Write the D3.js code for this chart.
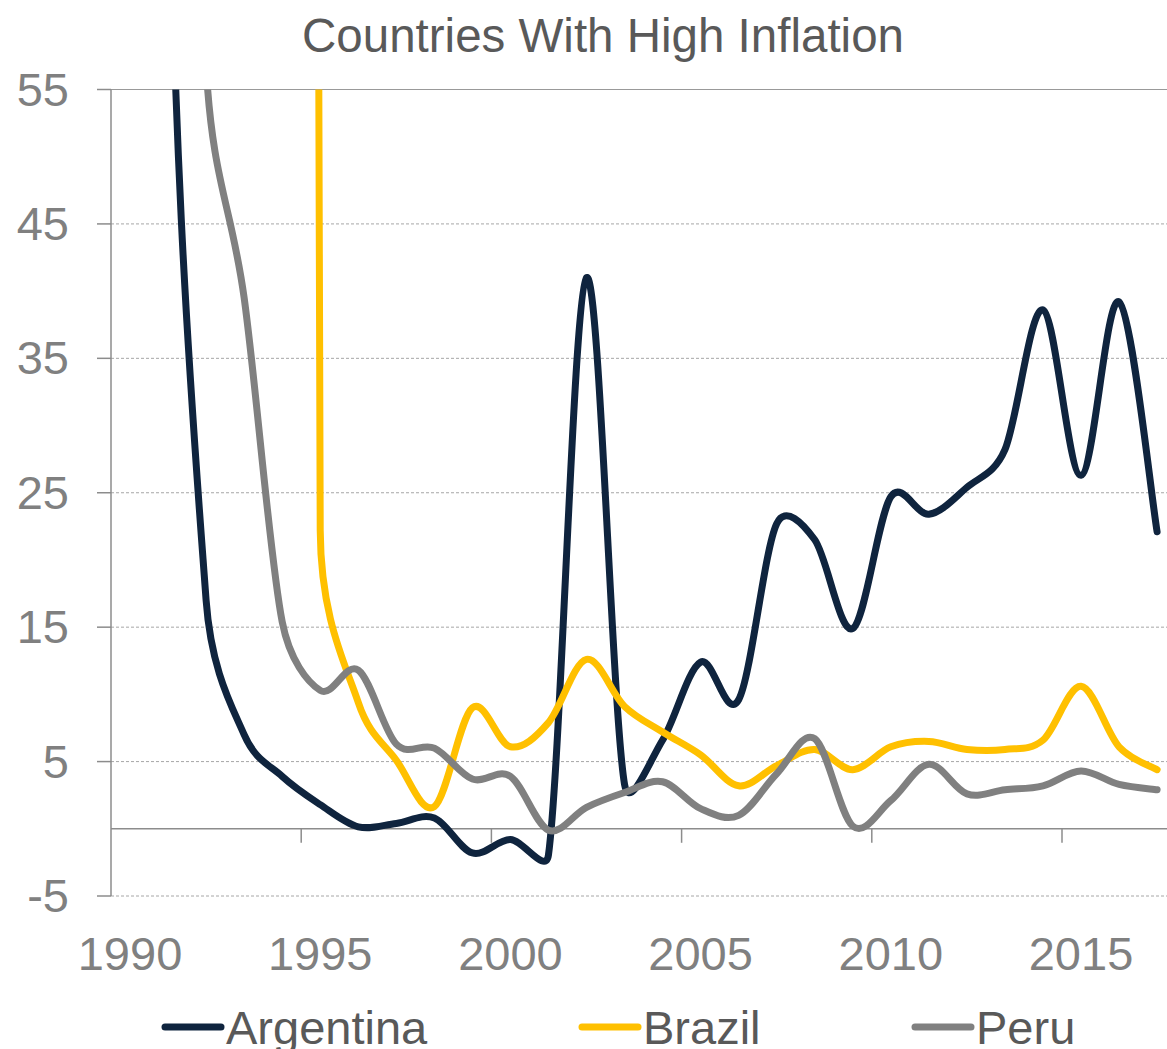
<!DOCTYPE html>
<html>
<head>
<meta charset="utf-8">
<script src="https://cdn.jsdelivr.net/npm/d3@7"></script>
<style>
  html, body { margin: 0; padding: 0; background: #ffffff; }
  svg { display: block; font-family: "Liberation Sans", Arial, sans-serif; }
</style>
</head>
<body>
<svg id="chart" width="1167" height="1049"></svg>
<script>
// Year-end consumer price inflation, percent
const years = [1990, 1991, 1992, 1993, 1994, 1995, 1996, 1997, 1998, 1999,
               2000, 2001, 2002, 2003, 2004, 2005, 2006, 2007, 2008, 2009,
               2010, 2011, 2012, 2013, 2014, 2015, 2016, 2017];

const argentina = [1344, 84, 17, 7.0, 3.9, 1.8, 0.15, 0.4, 0.8, -1.8,
                   -0.8, -1.95, 41, 3.3, 6.6, 12.4, 9.6, 22.7, 21.5, 14.9,
                   24.7, 23.4, 25.4, 28.2, 38.6, 26.3, 39.2, 22.1];

const brazil = [1621, 473, 1119, 2477, 916, 22.2, 9.4, 5.1, 1.65, 9.0,
                6.1, 7.9, 12.6, 9.1, 7.2, 5.5, 3.2, 4.7, 5.9, 4.4,
                6.1, 6.5, 5.9, 5.9, 6.6, 10.6, 6.1, 4.4];

const peru = [7650, 139, 56.7, 39.5, 15.4, 10.3, 11.8, 6.3, 6.0, 3.7,
              3.9, -0.1, 1.6, 2.7, 3.5, 1.5, 1.0, 4.1, 6.7, 0.2,
              2.1, 4.8, 2.6, 2.9, 3.2, 4.3, 3.3, 2.9];

const seriesNames = ["Argentina", "Brazil", "Peru"];
const seriesColors = ["#0F243E", "#FFC000", "#808080"];

const yTicks = [-5, 5, 15, 25, 35, 45, 55];
const xLabelYears = [1990, 1995, 2000, 2005, 2010, 2015];

const titleText = "Countries With High Inflation";

// Smoothed line: cubic Bezier segments with Catmull-Rom style tangents (1/6 of the
// neighbour chord), each handle capped at half of its own segment's length.
function curveSmoothCapped(context) {
  let pts = [];
  const dist = (a, b) => Math.hypot(b[0] - a[0], b[1] - a[1]);
  return {
    areaStart() {}, areaEnd() {},
    lineStart() { pts = []; },
    point(px, py) { pts.push([+px, +py]); },
    lineEnd() {
      const n = pts.length;
      if (!n) return;
      context.moveTo(pts[0][0], pts[0][1]);
      for (let i = 0; i < n - 1; i++) {
        const p0 = pts[Math.max(i - 1, 0)], p1 = pts[i], p2 = pts[i + 1], p3 = pts[Math.min(i + 2, n - 1)];
        const d12 = dist(p1, p2), d02 = dist(p0, p2), d13 = dist(p1, p3);
        const f1 = d02 > 0 ? Math.min(1 / 6, d12 / (2 * d02)) : 0;
        const f2 = d13 > 0 ? Math.min(1 / 6, d12 / (2 * d13)) : 0;
        const c1 = [p1[0] + (p2[0] - p0[0]) * f1, p1[1] + (p2[1] - p0[1]) * f1];
        const c2 = [p2[0] - (p3[0] - p1[0]) * f2, p2[1] - (p3[1] - p1[1]) * f2];
        context.bezierCurveTo(c1[0], c1[1], c2[0], c2[1], p2[0], p2[1]);
      }
    }
  };
}

const svg = d3.select("#chart");

const plot = { left: 111, top: 89.5, bottom: 896, right: 111 + 28 * 38.04 };

const x = d3.scaleBand()
  .domain(years)
  .range([plot.left, plot.right])
  .paddingInner(0)
  .paddingOuter(0);

const y = d3.scaleLinear()
  .domain([-5, 55])
  .range([plot.bottom, plot.top]);

const axisColor = "#8C8C8C";
const gridColor = "#A6A6A6";
const labelColor = "#808080";
const textColor = "#595959";
const fontSize = 47;

// Title
svg.append("text")
  .attr("x", 603)
  .attr("y", 52)
  .attr("text-anchor", "middle")
  .attr("fill", textColor)
  .attr("font-size", 47.5)
  .text(titleText);

// Horizontal gridlines
svg.append("g")
  .selectAll("line")
  .data(yTicks)
  .join("line")
  .attr("x1", plot.left)
  .attr("x2", 1167)
  .attr("y1", d => y(d))
  .attr("y2", d => y(d))
  .attr("stroke", d => d === 55 ? "#999999" : gridColor)
  .attr("stroke-width", 1)
  .attr("stroke-dasharray", d => d === 55 ? null : "3,2");

// Y axis line and ticks
svg.append("line")
  .attr("x1", plot.left).attr("x2", plot.left)
  .attr("y1", plot.top).attr("y2", plot.bottom)
  .attr("stroke", axisColor).attr("stroke-width", 1.5);

svg.append("g")
  .selectAll("line")
  .data(yTicks)
  .join("line")
  .attr("x1", plot.left - 14)
  .attr("x2", plot.left)
  .attr("y1", d => y(d))
  .attr("y2", d => y(d))
  .attr("stroke", axisColor).attr("stroke-width", 1.5);

svg.append("g")
  .selectAll("text")
  .data(yTicks)
  .join("text")
  .attr("x", 69)
  .attr("y", d => y(d) + 16)
  .attr("text-anchor", "end")
  .attr("fill", labelColor)
  .attr("font-size", fontSize)
  .text(d => d);

// X axis along zero
svg.append("line")
  .attr("x1", plot.left).attr("x2", 1167)
  .attr("y1", y(0)).attr("y2", y(0))
  .attr("stroke", axisColor).attr("stroke-width", 1.5);

svg.append("g")
  .selectAll("line")
  .data(xLabelYears.slice(1))
  .join("line")
  .attr("x1", d => x(d))
  .attr("x2", d => x(d))
  .attr("y1", y(0))
  .attr("y2", y(0) + 14)
  .attr("stroke", axisColor).attr("stroke-width", 1.5);

svg.append("g")
  .selectAll("text")
  .data(xLabelYears)
  .join("text")
  .attr("x", d => x(d) + x.bandwidth() / 2)
  .attr("y", 970)
  .attr("text-anchor", "middle")
  .attr("fill", labelColor)
  .attr("font-size", fontSize)
  .text(d => d);

// Lines, clipped to the plot area
svg.append("clipPath")
  .attr("id", "plot-clip")
  .append("rect")
  .attr("x", plot.left)
  .attr("y", plot.top)
  .attr("width", 1167 - plot.left)
  .attr("height", plot.bottom - plot.top);

const line = d3.line()
  .x(d => x(d.year) + x.bandwidth() / 2)
  .y(d => y(d.value))
  .curve(curveSmoothCapped);

const allSeries = [argentina, brazil, peru].map((vals, i) => ({
  name: seriesNames[i],
  color: seriesColors[i],
  points: years.map((yr, j) => ({ year: yr, value: vals[j] }))
}));

svg.append("g")
  .attr("clip-path", "url(#plot-clip)")
  .selectAll("path")
  .data(allSeries)
  .join("path")
  .attr("d", d => line(d.points))
  .attr("fill", "none")
  .attr("stroke", d => d.color)
  .attr("stroke-width", 7)
  .attr("stroke-linecap", "round")
  .attr("stroke-linejoin", "round");

// Legend
const legendX = [165, 582, 915];
const legend = svg.append("g")
  .selectAll("g")
  .data(allSeries)
  .join("g")
  .attr("transform", (d, i) => `translate(${legendX[i]},1027)`);

legend.append("line")
  .attr("x1", 0).attr("x2", 56)
  .attr("y1", 0).attr("y2", 0)
  .attr("stroke", d => d.color)
  .attr("stroke-width", 7)
  .attr("stroke-linecap", "round");

legend.append("text")
  .attr("x", 61)
  .attr("y", 17)
  .attr("fill", textColor)
  .attr("font-size", fontSize)
  .text(d => d.name);
</script>
</body>
</html>
